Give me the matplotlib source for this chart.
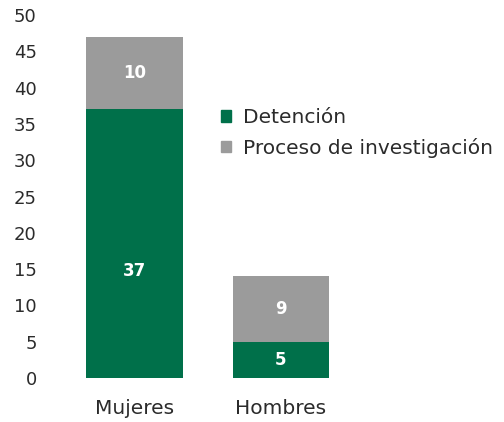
import matplotlib
matplotlib.use("Agg")
import matplotlib.pyplot as plt
from matplotlib.patches import Patch

categories = ["Mujeres", "Hombres"]
detencion = [37, 5]
investigacion = [10, 9]
series_names = ["Detención", "Proceso de investigación"]
yticks = [0, 5, 10, 15, 20, 25, 30, 35, 40, 45, 50]

green = "#00704A"
gray = "#9B9B9B"
txt = "#2B2B2B"

plt.rcParams['font.family'] = ['DejaVu Sans']

fig = plt.figure(figsize=(5.04, 4.22), dpi=100)
W, H = 504, 422
l, r, b, t = 45, 500, 378, 15
ax = fig.add_axes([l / W, (H - b) / H, (r - l) / W, (b - t) / H])

x = list(range(len(categories)))
bw = 0.66
ax.bar(x, detencion, width=bw, color=green)
ax.bar(x, investigacion, width=bw, bottom=detencion, color=gray)

# label placement within the green segment (fraction of segment height)
det_frac = [0.40, 0.5]
for i in x:
    ax.text(i, detencion[i] * det_frac[i], str(detencion[i]), ha='center', va='center',
            color='white', fontsize=12, fontweight='bold')
    ax.text(i, detencion[i] + investigacion[i] / 2, str(investigacion[i]), ha='center',
            va='center', color='white', fontsize=12, fontweight='bold')

ax.set_xlim(-0.611, 2.495)
ax.set_ylim(0, 50)
ax.set_yticks(yticks)
ax.set_xticks(x)
ax.set_xticklabels(categories)
for s in ax.spines.values():
    s.set_visible(False)
ax.tick_params(axis='y', length=0, labelsize=13, colors=txt, pad=6)
ax.tick_params(axis='x', length=0, labelsize=14.5, colors=txt, pad=15)

handles = [Patch(color=green), Patch(color=gray)]
leg = fig.legend(handles, series_names, loc='upper left',
                 bbox_to_anchor=(203 / W, 1 - 90 / H), frameon=False,
                 fontsize=14.5, handlelength=0.5, handleheight=0.5,
                 handletextpad=0.6, labelspacing=0.52, labelcolor=txt)

fig.savefig("out.png", dpi=100)
